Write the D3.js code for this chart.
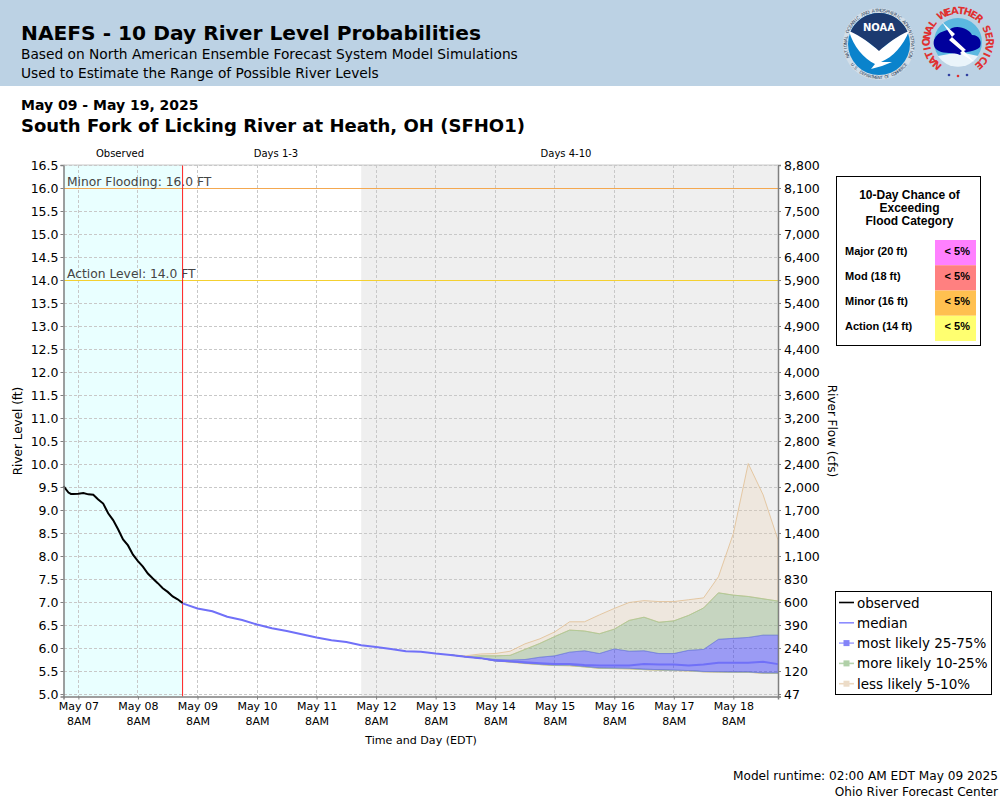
<!DOCTYPE html>
<html>
<head>
<meta charset="utf-8">
<title>NAEFS - 10 Day River Level Probabilities</title>
<script src="https://cdn.jsdelivr.net/npm/d3@7"></script>
<style>
  html, body { margin: 0; padding: 0; background: #fff; }
  svg { display: block; }
  text { font-family: "DejaVu Sans", sans-serif; fill: #000; }
  .box text { font-family: "Liberation Sans", Arial, sans-serif; font-weight: bold; font-size: 12px; }
</style>
</head>
<body>
<script>
// hours since May 07 2AM, observed stage in ft
var obsHours = [0, 2, 3, 4, 6, 8, 10, 12, 14, 16, 18, 20, 22, 24, 26, 28, 30, 32, 34, 36, 38, 40, 42, 44, 46, 48];
var obsLevels = [9.52, 9.38, 9.35, 9.35, 9.355, 9.37, 9.34, 9.33, 9.23, 9.14, 8.93, 8.78, 8.58, 8.36, 8.23, 8.03, 7.89, 7.77, 7.62, 7.51, 7.41, 7.30, 7.22, 7.12, 7.06, 6.98];

// forecast is 6 hourly from May 09 2AM
var median = [6.97, 6.86, 6.80, 6.68, 6.61, 6.51, 6.43, 6.37, 6.30, 6.23, 6.17, 6.13, 6.06, 6.02, 5.98, 5.93, 5.92, 5.88, 5.85, 5.81, 5.78,
  5.73, 5.71, 5.69, 5.67, 5.65, 5.65, 5.63, 5.62, 5.62, 5.62, 5.65, 5.64, 5.64, 5.62, 5.64, 5.68, 5.68, 5.68, 5.70, 5.65];

// the bands only open up near the end, these start at forecast step 18
var bandStart = 18;
var p95 = [5.85, 5.83, 5.87, 5.88, 5.93, 6.09, 6.20, 6.35, 6.57, 6.57, 6.72, 6.86, 6.99, 7.03, 7.01, 7.01, 7.05, 7.09, 7.55, 8.49, 10.01, 9.33, 8.35];
var p90 = [5.85, 5.81, 5.83, 5.83, 5.84, 5.97, 6.10, 6.25, 6.39, 6.37, 6.31, 6.41, 6.60, 6.67, 6.56, 6.59, 6.71, 6.87, 7.20, 7.15, 7.12, 7.07, 7.02];
var p75 = [5.85, 5.81, 5.78, 5.75, 5.74, 5.75, 5.80, 5.83, 5.91, 5.94, 5.88, 5.98, 5.93, 5.94, 5.88, 5.88, 5.95, 5.97, 6.19, 6.21, 6.23, 6.28, 6.28];
var p25 = [5.85, 5.81, 5.78, 5.72, 5.70, 5.67, 5.65, 5.63, 5.63, 5.60, 5.57, 5.565, 5.56, 5.54, 5.53, 5.52, 5.51, 5.49, 5.485, 5.48, 5.48, 5.46, 5.46];
var p10 = [5.85, 5.81, 5.78, 5.72, 5.70, 5.67, 5.64, 5.62, 5.62, 5.59, 5.56, 5.555, 5.55, 5.53, 5.52, 5.51, 5.505, 5.485, 5.48, 5.475, 5.475, 5.455, 5.45];
var p05 = [5.85, 5.81, 5.78, 5.72, 5.69, 5.66, 5.64, 5.62, 5.61, 5.59, 5.56, 5.55, 5.545, 5.53, 5.52, 5.51, 5.50, 5.48, 5.475, 5.47, 5.47, 5.45, 5.445];

var levelTicks = [5, 5.5, 6, 6.5, 7, 7.5, 8, 8.5, 9, 9.5, 10, 10.5, 11, 11.5, 12, 12.5, 13, 13.5, 14, 14.5, 15, 15.5, 16, 16.5];
var flowTicks = ["47", "120", "240", "390", "600", "830", "1,100", "1,400", "1,700", "2,000", "2,400", "2,800", "3,200", "3,600", "4,000", "4,400", "4,900", "5,400", "5,900", "6,400", "7,000", "7,500", "8,100", "8,800"];
var dayLabels = ["May 07", "May 08", "May 09", "May 10", "May 11", "May 12", "May 13", "May 14", "May 15", "May 16", "May 17", "May 18"];

var thresholds = [
  {name: "Minor Flooding: 16.0 FT", level: 16, color: "#f4a850"},
  {name: "Action Level: 14.0 FT", level: 14, color: "#f4d030"}
];
var floodCats = ["Major (20 ft)", "Mod (18 ft)", "Minor (16 ft)", "Action (14 ft)"];
var floodChance = ["< 5%", "< 5%", "< 5%", "< 5%"];
var floodColors = ["#ff80ff", "#ff8080", "#ffc050", "#ffff70"];

var t0 = Date.UTC(2025, 4, 7, 2);
var hour = 3600000;
function at(h) { return new Date(t0 + h * hour); }

var width = 1000, height = 800;
var svg = d3.select("body").append("svg").attr("width", width).attr("height", height);

var x = d3.scaleUtc().domain([at(0), at(288)]).range([63.5, 778]);
var y = d3.scaleLinear().domain([4.946, 16.5]).range([696.5, 165]);

// header
svg.append("rect").attr("width", width).attr("height", 86).attr("fill", "#bcd2e4");
function label(px, py, str, size, weight, anchor) {
  return svg.append("text").attr("x", px).attr("y", py).text(str)
    .style("font-size", size + "px").style("font-weight", weight || "normal")
    .attr("text-anchor", anchor || "start");
}
label(21, 40, "NAEFS - 10 Day River Level Probabilities", 20.2, "bold");
label(21, 59, "Based on North American Ensemble Forecast System Model Simulations", 13.75);
label(21, 78, "Used to Estimate the Range of Possible River Levels", 13.75);
label(21, 110, "May 09 - May 19, 2025", 14, "bold");
label(21, 132, "South Fork of Licking River at Heath, OH (SFHO1)", 18.05, "bold");
label(120, 157, "Observed", 10, null, "middle");
label(276, 157, "Days 1-3", 10, null, "middle");
label(566, 157, "Days 4-10", 10, null, "middle");

// letters one by one round a logo, angles in degrees clockwise from the top
function ringText(g, str, r, a0, a1, size, fill, weight, inward) {
  var chars = str.split("");
  chars.forEach(function (c, i) {
    if (c === " ") return;
    var a = a0 + (a1 - a0) * i / (chars.length - 1);
    var rad = a * Math.PI / 180;
    g.append("text").attr("text-anchor", "middle")
      .attr("transform", "translate(" + (r * Math.sin(rad)) + "," + (-r * Math.cos(rad)) + ") rotate(" + (inward ? a + 180 : a) + ")")
      .style("font-size", size + "px").style("font-weight", weight || "normal").style("fill", fill).text(c);
  });
}

// logos
var noaa = svg.append("g").attr("transform", "translate(879,44)");
noaa.append("circle").attr("r", 36).attr("fill", "#d2dee8");
ringText(noaa, "NATIONAL OCEANIC AND ATMOSPHERIC ADMINISTRATION", 32, -112, 112, 4.6, "#33465c");
ringText(noaa, "U.S. DEPARTMENT OF COMMERCE", 35, 232, 128, 4.2, "#33465c", null, true);
noaa.append("circle").attr("r", 31).attr("fill", "#0a83cc");
noaa.append("path").attr("d", "M-29,-11A31,31 0 0 1 29,-11C18,-6 8,-2 0,8C-8,-2 -18,-6 -29,-11Z").attr("fill", "#1c3a70");
noaa.append("path").attr("d", "M-30,-13C-18,-8 -8,0 0,7C8,0 18,-8 30,-13C24,2 14,13 2,18L13,18L3,22L-8,25L-4,20C-15,15 -26,2 -30,-13Z").attr("fill", "#fff");
noaa.append("text").attr("text-anchor", "middle").attr("y", -13).style("font-size", "10px").style("font-weight", "bold").style("fill", "#fff").text("NOAA");

var nws = svg.append("g").attr("transform", "translate(958,42)");
ringText(nws, "NATIONAL WEATHER SERVICE", 28, -138, 138, 10, "#e03030", "bold");
nws.append("circle").attr("r", 24).attr("fill", "#5bb8e0");
nws.append("path").attr("d", "M-20,14A24,24 0 0 0 20,14L2,10Z").attr("fill", "#eaf4fa");
nws.append("path").attr("d", "M-24,-2C-20,-12 -10,-11 -6,-14C2,-17 12,-12 14,-7C22,-7 24,0 22,5C18,10 6,9 2,13C-4,10 -14,12 -19,9C-24,7 -25,2 -24,-2Z").attr("fill", "#00009c");
nws.append("path").attr("d", "M-16,-20L-3,-8L-6,-5L8,8L6,9L16,20L2,11L4,9L-9,-2L-6,-5Z").attr("fill", "#fff");
nws.selectAll(".star").data([-9, 0, 9]).enter().append("circle").attr("cx", function (d) { return d; })
  .attr("cy", function (d) { return d === 0 ? 34 : 33; }).attr("r", 1.3).attr("fill", function (d) { return d === 0 ? "#e03030" : "#3040a0"; });

// plot background
svg.append("rect").attr("x", x(at(0))).attr("y", y(16.5)).attr("width", x(at(48)) - x(at(0))).attr("height", y.range()[0] - y(16.5)).attr("fill", "#e9ffff");
svg.append("rect").attr("x", x(at(120))).attr("y", y(16.5)).attr("width", x(at(288)) - x(at(120))).attr("height", y.range()[0] - y(16.5)).attr("fill", "#efefef");

var dayTicks = dayLabels.map(function (d, i) { return at(6 + 24 * i); });

// grid
svg.append("g").selectAll("line").data(levelTicks).enter().append("line")
  .attr("x1", x.range()[0]).attr("x2", x.range()[1])
  .attr("y1", function (d) { return y(d); }).attr("y2", function (d) { return y(d); })
  .attr("stroke", "#c8c8c8").attr("stroke-dasharray", "3,2").attr("shape-rendering", "crispEdges");
svg.append("g").selectAll("line").data(dayTicks).enter().append("line")
  .attr("x1", function (d) { return x(d); }).attr("x2", function (d) { return x(d); })
  .attr("y1", y.range()[1]).attr("y2", y.range()[0])
  .attr("stroke", "#c8c8c8").attr("stroke-dasharray", "3,2").attr("shape-rendering", "crispEdges");

// bands, side by side so they do not add up
function bandArea(lo, hi) {
  var rows = lo.map(function (d, i) { return {t: at(48 + 6 * (bandStart + i)), lo: d, hi: hi[i]}; });
  return d3.area().x(function (d) { return x(d.t); })
    .y0(function (d) { return y(d.lo); }).y1(function (d) { return y(d.hi); })(rows);
}
function drawBand(lo, hi, fill, stroke) {
  svg.append("path").attr("d", bandArea(lo, hi)).attr("fill", fill)
    .attr("stroke", stroke).attr("stroke-width", 1);
}
var tanFill = "rgba(235,200,155,0.2)", tanEdge = "rgba(225,190,145,0.8)";
var greenFill = "rgba(137,175,122,0.4)", greenEdge = "rgba(165,205,150,0.7)";
var blueFill = "rgba(0,0,255,0.35)", blueEdge = "rgba(110,110,245,0.6)";
drawBand(p90, p95, tanFill, tanEdge);
drawBand(p05, p10, tanFill, tanEdge);
drawBand(p75, p90, greenFill, greenEdge);
drawBand(p10, p25, greenFill, greenEdge);
drawBand(p25, p75, blueFill, blueEdge);

// threshold lines
svg.selectAll(".thr").data(thresholds).enter().append("line").attr("class", "thr")
  .attr("x1", x.range()[0]).attr("x2", x.range()[1])
  .attr("y1", function (d) { return y(d.level); }).attr("y2", function (d) { return y(d.level); })
  .attr("stroke", function (d) { return d.color; }).attr("stroke-width", 1).attr("shape-rendering", "crispEdges");
thresholds.forEach(function (d) {
  label(67, y(d.level) - 2.5, d.name, 12.3).style("fill", "#444");
});

// observed / forecast divider
svg.append("line").attr("x1", x(at(48))).attr("x2", x(at(48))).attr("y1", y.range()[1]).attr("y2", y.range()[0])
  .attr("stroke", "#ff2020").attr("stroke-width", 1);

// lines
var line = d3.line().x(function (d) { return x(d[0]); }).y(function (d) { return y(d[1]); });
svg.append("path").attr("fill", "none").attr("stroke", "#7070f8").attr("stroke-width", 2)
  .attr("d", line(median.map(function (d, i) { return [at(48 + 6 * i), d]; })));
svg.append("path").attr("fill", "none").attr("stroke", "#000").attr("stroke-width", 2)
  .attr("d", line(obsLevels.map(function (d, i) { return [at(obsHours[i]), d]; })));

// axes
var axisLeft = d3.axisLeft(y).tickValues(levelTicks).tickFormat(d3.format(".1f")).tickSize(3).tickPadding(2);
var axisRight = d3.axisRight(y).tickValues(levelTicks).tickFormat(function (d, i) { return flowTicks[i]; }).tickSize(3).tickPadding(3);
var axisBottom = d3.axisBottom(x).tickValues(dayTicks).tickFormat(function (d, i) { return dayLabels[i]; }).tickSize(3).tickPadding(3);

function styleAxis(g) {
  g.selectAll(".domain").attr("stroke", "#808080").attr("stroke-width", 1.5);
  g.selectAll(".tick line").attr("stroke", "#808080");
  g.selectAll("text").style("font-family", "'DejaVu Sans', sans-serif");
}
svg.append("g").attr("transform", "translate(" + x.range()[0] + ",0)").call(axisLeft).call(styleAxis)
  .selectAll("text").style("font-size", "12.5px");
svg.append("g").attr("transform", "translate(" + x.range()[1] + ",0)").call(axisRight).call(styleAxis)
  .selectAll("text").style("font-size", "12.5px");
var xg = svg.append("g").attr("transform", "translate(0," + y.range()[0] + ")").call(axisBottom).call(styleAxis);
xg.selectAll("text").style("font-size", "11px");
xg.selectAll(".tick").append("text").attr("y", 28.5).attr("fill", "#000").attr("text-anchor", "middle")
  .style("font-size", "11px").text("8AM");

// top edge of the plot
svg.append("line").attr("x1", x.range()[0]).attr("x2", x.range()[1]).attr("y1", y.range()[1]).attr("y2", y.range()[1]).attr("stroke", "#c8c8c8");

// axis titles
label(0, 0, "River Level (ft)", 12, null, "middle").attr("transform", "translate(22,431) rotate(-90)");
label(0, 0, "River Flow (cfs)", 12, null, "middle").attr("transform", "translate(828,431) rotate(90)");
label(421, 744, "Time and Day (EDT)", 11.1, null, "middle");

// footer
label(998, 780, "Model runtime: 02:00 AM EDT May 09 2025", 12.15, null, "end");
label(998, 796, "Ohio River Forecast Center", 12.15, null, "end");

// flood category box
var box = svg.append("g").attr("class", "box");
box.append("rect").attr("x", 836.5).attr("y", 176.5).attr("width", 144).attr("height", 169).attr("fill", "#fff").attr("stroke", "#000");
["10-Day Chance of", "Exceeding", "Flood Category"].forEach(function (d, i) {
  box.append("text").attr("x", 909.5).attr("y", 199 + 13 * i).attr("text-anchor", "middle").text(d);
});
var rowY = d3.scaleBand().domain(floodCats).range([240, 341]);
box.selectAll(".cell").data(floodCats).enter().append("rect").attr("class", "cell")
  .attr("x", 935).attr("width", 41)
  .attr("y", function (d) { return rowY(d); }).attr("height", rowY.bandwidth())
  .attr("fill", function (d, i) { return floodColors[i]; });
box.selectAll(".cat").data(floodCats).enter().append("text").attr("class", "cat")
  .attr("x", 845).attr("y", function (d, i) { return 255 + 25 * i; }).text(function (d) { return d; })
  .style("font-size", "11px");
box.selectAll(".chance").data(floodChance).enter().append("text").attr("class", "chance")
  .attr("x", 970).attr("text-anchor", "end").attr("y", function (d, i) { return 255 + 25 * i; })
  .text(function (d) { return d; }).style("font-size", "11px");

// legend
var legendItems = [
  {name: "observed", line: "#000", swatch: null},
  {name: "median", line: "#8c8cff", swatch: null},
  {name: "most likely 25-75%", line: "#a8a8ff", swatch: "#8484f8"},
  {name: "more likely 10-25%", line: "#b8d4b0", swatch: "#b0d0a8"},
  {name: "less likely 5-10%", line: "#ecd8c0", swatch: "#ecdcc8"}
];
var legend = svg.append("g");
legend.append("rect").attr("x", 835.5).attr("y", 591.5).attr("width", 156).attr("height", 103).attr("fill", "#fff").attr("stroke", "#000");
legendItems.forEach(function (d, i) {
  var ly = 602.5 + 20.3 * i;
  legend.append("line").attr("x1", 839).attr("x2", 854).attr("y1", ly).attr("y2", ly).attr("stroke", d.line).attr("stroke-width", 1.6);
  if (d.swatch) {
    legend.append("rect").attr("x", 843.5).attr("y", ly - 3).attr("width", 6).attr("height", 6).attr("fill", d.swatch);
  }
  legend.append("text").attr("x", 857).attr("y", ly + 5).style("font-size", "13.5px").text(d.name);
});
</script>
</body>
</html>
